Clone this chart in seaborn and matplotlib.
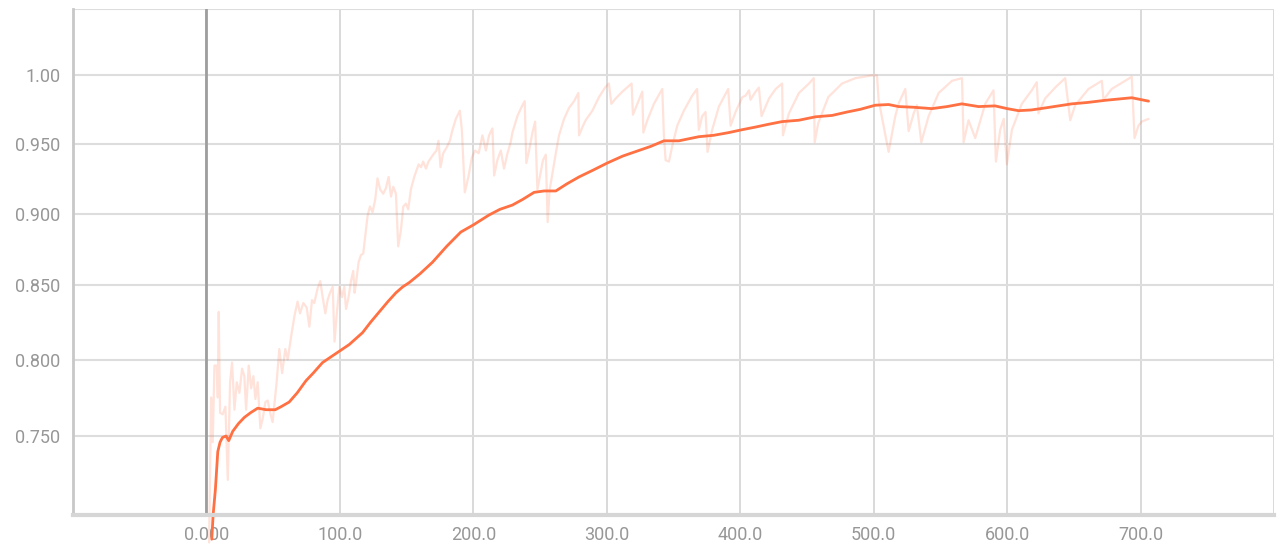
import matplotlib
matplotlib.use('Agg')
import matplotlib.pyplot as plt
import pandas as pd
import numpy as np
import seaborn as sns

# raw (unsmoothed) accuracy values per step
raw_step = [2, 3.5, 4.7, 6, 7.7, 8.5, 9.2, 10.2, 12.2, 14.2, 16, 17.7, 19.2, 21, 22.7, 24.7,
            26.7, 28.4, 29.7, 31.7, 33.5, 35.2, 36.7, 38.4, 40.4, 42.1, 44.2, 45.9, 47.7, 49.6,
            52.6, 54.6, 56.7, 59.1, 60.9, 63.4, 65.9, 68.3, 70.1, 72.6, 75.1, 77.1, 79.1, 80.8,
            83.3, 85.3, 87.1, 89.1, 90.8, 92.6, 94.6, 96, 97.5, 99.6, 101.6, 103.3, 104.6, 106.5,
            108.3, 110, 111, 112, 114, 115.8, 117.5, 119.5, 120.7, 122.5, 124.5, 126.5, 128.2,
            130.2, 132.5, 134.5, 136.5, 138.3, 140, 142, 143.7, 145.7, 147.5, 149.5, 151.2, 153.2,
            155.7, 157.5, 159, 160.8, 162.4, 164.5, 166.4, 169.9, 172.4, 173.9, 175.4, 177.4,
            179.9, 182.4, 184.4, 186.9, 189.9, 191.4, 193.6, 196.3, 198.9, 201.3, 204, 206.8,
            209.4, 211.8, 214.3, 215.6, 218, 220.6, 223, 225.6, 228, 229.3, 233, 236.3, 238.5,
            239.7, 241.8, 244.3, 246.3, 248, 249.8, 252.2, 254.3, 255.7, 257.2, 259.2, 261.8,
            264.2, 268, 271.7, 275.5, 278.7, 279.2, 282.2, 284.2, 289.2, 294.2, 298.7, 301.6,
            303.4, 306.7, 311.7, 318.6, 319.6, 322.9, 326.6, 327.4, 330.4, 335.3, 341.6, 342.8,
            344.1, 346.6, 349, 352.8, 357.8, 364, 367.7, 369, 371.5, 374, 375.5, 379, 384, 391,
            392.8, 396.5, 401.6, 404, 406.6, 407.7, 411.5, 414, 416, 421.6, 426.6, 431.4, 432,
            436.5, 444, 451.5, 455.1, 455.8, 458.5, 466, 476.3, 486.3, 498.7, 502.5, 503.7, 507,
            511.2, 516.2, 519, 523.7, 526.2, 530, 532.4, 535.7, 541.2, 548.7, 558.7, 566.2, 567.4,
            571.1, 576.1, 583.6, 589.8, 591.6, 594.8, 597.5, 599.8, 603.6, 611, 618.5, 622.2,
            623.5, 628.5, 636, 643.5, 647.3, 651, 661, 671, 672.2, 678.4, 693.4, 695.5, 698.4,
            700.9, 703.4, 706]
raw_value = [0.683, 0.775, 0.746, 0.796, 0.796, 0.775, 0.832, 0.765, 0.764, 0.769, 0.722, 0.785,
             0.798, 0.767, 0.785, 0.778, 0.794, 0.789, 0.767, 0.796, 0.781, 0.789, 0.774, 0.785,
             0.755, 0.761, 0.772, 0.773, 0.765, 0.759, 0.785, 0.807, 0.791, 0.807, 0.800, 0.815,
             0.829, 0.839, 0.831, 0.838, 0.835, 0.822, 0.840, 0.838, 0.848, 0.853, 0.842, 0.831,
             0.840, 0.845, 0.849, 0.812, 0.829, 0.849, 0.842, 0.849, 0.834, 0.842, 0.853, 0.860,
             0.845, 0.851, 0.866, 0.871, 0.872, 0.888, 0.898, 0.905, 0.901, 0.910, 0.925, 0.917,
             0.914, 0.918, 0.926, 0.912, 0.919, 0.914, 0.877, 0.888, 0.905, 0.907, 0.903, 0.917,
             0.926, 0.931, 0.935, 0.933, 0.937, 0.932, 0.937, 0.942, 0.945, 0.952, 0.933, 0.943,
             0.947, 0.952, 0.960, 0.968, 0.974, 0.960, 0.915, 0.926, 0.940, 0.945, 0.943, 0.956,
             0.945, 0.956, 0.961, 0.927, 0.938, 0.945, 0.932, 0.943, 0.951, 0.958, 0.970, 0.977,
             0.981, 0.936, 0.945, 0.958, 0.966, 0.917, 0.926, 0.938, 0.942, 0.894, 0.917, 0.928,
             0.943, 0.956, 0.968, 0.976, 0.981, 0.987, 0.956, 0.963, 0.967, 0.974, 0.984, 0.991,
             0.994, 0.979, 0.983, 0.988, 0.994, 0.971, 0.979, 0.988, 0.958, 0.967, 0.979, 0.990,
             0.956, 0.938, 0.937, 0.948, 0.963, 0.974, 0.985, 0.990, 0.960, 0.970, 0.973, 0.944,
             0.960, 0.977, 0.990, 0.963, 0.973, 0.984, 0.985, 0.989, 0.982, 0.988, 0.991, 0.970,
             0.983, 0.990, 0.994, 0.956, 0.972, 0.987, 0.994, 0.998, 0.951, 0.965, 0.984, 0.994,
             0.998, 1.000, 1.000, 0.982, 0.965, 0.944, 0.970, 0.980, 0.990, 0.959, 0.972, 0.978,
             0.951, 0.970, 0.987, 0.996, 0.998, 0.951, 0.967, 0.954, 0.979, 0.989, 0.937, 0.960,
             0.968, 0.935, 0.960, 0.979, 0.989, 0.995, 0.972, 0.983, 0.991, 0.998, 0.967, 0.978,
             0.990, 0.996, 0.982, 0.990, 0.999, 0.954, 0.963, 0.966, 0.967, 0.968]

# smoothed curve as shown
smooth_step = [4, 5, 6.7, 8.5, 10.2, 12, 14.7, 16.7, 19.7, 24, 28.4, 33, 38.4, 44.7, 51.6, 56, 62,
               68, 74.6, 80, 87, 92, 97, 102, 107, 112, 117, 123, 129.5, 136, 142, 147, 152, 160,
               169.4, 180, 190.6, 200, 211.8, 220, 229.3, 237, 245.5, 253, 261.8, 270, 279.2, 290,
               300.4, 312, 324, 333, 342.8, 354, 369, 380, 391.5, 401, 411.4, 421, 431.4, 443.9,
               456.4, 468.8, 480, 490, 501.2, 511.2, 518.7, 530, 543.6, 555, 566, 578.6, 591, 600,
               608.5, 618, 628.5, 648.4, 660, 673.4, 693.4, 706]
smooth_value = [0.685, 0.700, 0.716, 0.740, 0.746, 0.749, 0.750, 0.747, 0.753, 0.758, 0.762, 0.765,
                0.768, 0.767, 0.767, 0.769, 0.772, 0.778, 0.786, 0.791, 0.798, 0.801, 0.804, 0.807,
                0.810, 0.814, 0.818, 0.825, 0.832, 0.839, 0.845, 0.849, 0.852, 0.858, 0.866, 0.877,
                0.887, 0.892, 0.899, 0.903, 0.906, 0.910, 0.915, 0.916, 0.916, 0.921, 0.926, 0.931,
                0.936, 0.941, 0.945, 0.948, 0.952, 0.952, 0.955, 0.956, 0.958, 0.960, 0.962, 0.964,
                0.966, 0.967, 0.9695, 0.9705, 0.973, 0.975, 0.978, 0.9785, 0.977, 0.9765, 0.9755,
                0.977, 0.979, 0.977, 0.9775, 0.9755, 0.974, 0.9745, 0.976, 0.979, 0.980, 0.9816,
                0.9835, 0.981]

x_ticks = [-100, 0, 100, 200, 300, 400, 500, 600, 700, 800]
x_labels = ['', '0.000', '100.0', '200.0', '300.0', '400.0', '500.0', '600.0', '700.0', '']
y_ticks = [0.70, 0.75, 0.80, 0.85, 0.90, 0.95, 1.00, 1.05]
y_labels = ['', '0.750', '0.800', '0.850', '0.900', '0.950', '1.00', '']

sns.set_style('white')
plt.rcParams['font.family'] = ['Roboto', 'DejaVu Sans']

color = '#ff7043'
raw = pd.DataFrame({'step': raw_step, 'value': raw_value})
smooth = pd.DataFrame({'step': smooth_step, 'value': smooth_value})

fig = plt.figure(figsize=(12.77, 5.46), dpi=100)
ax = fig.add_axes([73 / 1277, 31 / 546, 1201 / 1277, 506 / 546])
ax.set_yscale('function', functions=(np.sqrt, np.square))

sns.lineplot(data=raw, x='step', y='value', ax=ax, color=color, alpha=0.2, lw=1.6,
             estimator=None, sort=False, clip_on=False)
sns.lineplot(data=smooth, x='step', y='value', ax=ax, color=color, lw=2.0,
             estimator=None, sort=False, clip_on=False)

ax.set_xlim(-100, 800)
ax.set_ylim(0.70, 1.05)
ax.set_xticks(x_ticks)
ax.set_xticklabels(x_labels)
ax.set_yticks(y_ticks)
ax.set_yticklabels(y_labels)
ax.minorticks_off()
ax.set_xlabel('')
ax.set_ylabel('')

ax.grid(True, axis='y', color='#dddddd', lw=1.5)
ax.grid(True, axis='x', color='#cfcfcf', lw=1.1)
ax.axvline(0, color='#9e9e9e', lw=2, zorder=1)
ax.set_axisbelow(True)

for s in ['top', 'right']:
    ax.spines[s].set_visible(False)
ax.spines['left'].set_color('#c8c8c8')
ax.spines['left'].set_linewidth(2)
ax.spines['bottom'].set_color('#d6d6d6')
ax.spines['bottom'].set_linewidth(3)

ax.tick_params(axis='both', colors='#c8c8c8', labelcolor='#979797', labelsize=13, width=1.2)
ax.tick_params(axis='y', length=6, pad=3)
ax.tick_params(axis='x', length=5, pad=3)

fig.savefig('out.png', dpi=100)
